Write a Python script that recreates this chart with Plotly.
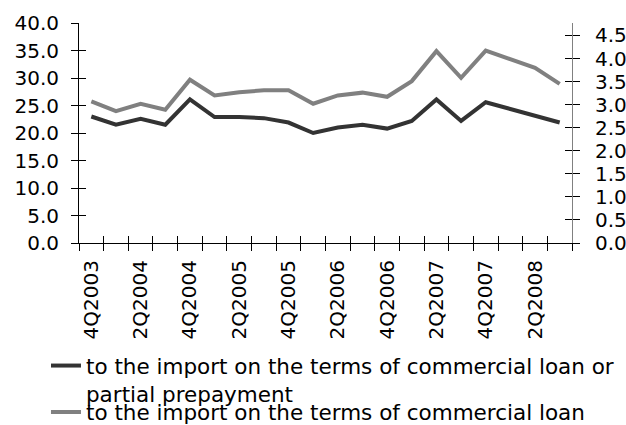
import plotly.graph_objects as go

quarters = ["4Q2003",
            "1Q2004", "2Q2004", "3Q2004", "4Q2004",
            "1Q2005", "2Q2005", "3Q2005", "4Q2005",
            "1Q2006", "2Q2006", "3Q2006", "4Q2006",
            "1Q2007", "2Q2007", "3Q2007", "4Q2007",
            "1Q2008", "2Q2008", "3Q2008"]
tick_labels = [q if i % 2 == 0 else "" for i, q in enumerate(quarters)]

# left axis series
loan_or_prepay = [23.0, 21.5, 22.6, 21.5, 26.1, 22.9, 22.9, 22.7, 21.9, 20.0,
                  21.0, 21.5, 20.8, 22.2, 26.1, 22.2, 25.6, 24.4, 23.2, 21.9]
# right axis series
loan = [3.07, 2.86, 3.02, 2.89, 3.54, 3.20, 3.27, 3.31, 3.31, 3.02,
        3.20, 3.26, 3.17, 3.51, 4.16, 3.58, 4.17, 3.98, 3.80, 3.45]

name1 = "to the import on the terms of commercial loan or<br>partial prepayment"
name2 = "to the import on the terms of commercial loan"

left_ticks = [0, 5, 10, 15, 20, 25, 30, 35, 40]
right_ticks = [0, 0.5, 1.0, 1.5, 2.0, 2.5, 3.0, 3.5, 4.0, 4.5]
LEFT_MAX = 40
RIGHT_MAX = 4.77

FONT = "DejaVu Sans"
TL = 7
fig = go.Figure()
fig.add_trace(go.Scatter(x=quarters, y=loan_or_prepay, name=name1, mode="lines",
                         line=dict(color="#333333", width=4), xaxis="x", yaxis="y",
                         legend="legend"))
fig.add_trace(go.Scatter(x=quarters, y=loan, name=name2, mode="lines",
                         line=dict(color="#808080", width=4), xaxis="x", yaxis="y2",
                         legend="legend2"))
# invisible traces to carry the "inside" half of the crossing tick marks
fig.add_trace(go.Scatter(x=quarters, y=loan_or_prepay, mode="lines", opacity=0,
                         showlegend=False, hoverinfo="skip", xaxis="x2", yaxis="y3"))
fig.add_trace(go.Scatter(x=quarters, y=loan, mode="lines", opacity=0,
                         showlegend=False, hoverinfo="skip", xaxis="x2", yaxis="y4"))

cat_rng = [-0.5, len(quarters) - 0.5]
legend_common = dict(xanchor="left", yanchor="top", font=dict(size=21.5),
                     valign="top", bgcolor="rgba(0,0,0,0)", borderwidth=0)
fig.update_layout(
    width=626, height=425,
    margin=dict(l=79, r=54, t=23, b=182, autoexpand=False),
    paper_bgcolor="white", plot_bgcolor="white",
    font=dict(family=FONT, size=20, color="black"),
    showlegend=True,
    legend=dict(x=-0.067, y=-0.464, **legend_common),
    legend2=dict(x=-0.067, y=-0.675, **legend_common),
    xaxis=dict(type="category", categoryorder="array", categoryarray=quarters,
               range=cat_rng, tickmode="array", tickvals=quarters, ticktext=tick_labels,
               tickson="boundaries", ticks="outside", ticklen=TL, tickcolor="black",
               showline=True, linecolor="black", linewidth=1, showgrid=False,
               tickangle=-90, zeroline=False, tickfont=dict(size=20), automargin=False,
               ticklabelstandoff=8),
    xaxis2=dict(type="category", categoryorder="array", categoryarray=quarters,
                range=cat_rng, overlaying="x", anchor="y", side="bottom",
                tickmode="array", tickvals=quarters, tickson="boundaries",
                ticks="inside", ticklen=TL, tickcolor="black", automargin=False,
                showticklabels=False, showgrid=False, showline=False, zeroline=False),
    yaxis=dict(range=[0, LEFT_MAX], tickmode="array", tickvals=left_ticks,
               tickformat=".1f", ticks="outside", ticklen=TL, tickcolor="black",
               showline=True, linecolor="black", linewidth=1, showgrid=False,
               zeroline=False, tickfont=dict(size=20), automargin=False,
               ticklabelstandoff=8),
    yaxis2=dict(range=[0, RIGHT_MAX], tickmode="array", tickvals=right_ticks,
                tickformat=".1f", overlaying="y", side="right", anchor="x",
                ticks="outside", ticklen=TL, tickcolor="black", automargin=False,
                showline=True, linecolor="#808080", linewidth=1, showgrid=False,
                zeroline=False, tickfont=dict(size=20), ticklabelstandoff=11),
    yaxis3=dict(range=[0, LEFT_MAX], tickmode="array", tickvals=left_ticks,
                overlaying="y", side="left", anchor="x", ticks="inside", ticklen=TL,
                tickcolor="black", showticklabels=False, showgrid=False,
                showline=False, zeroline=False, automargin=False),
    yaxis4=dict(range=[0, RIGHT_MAX], tickmode="array", tickvals=right_ticks,
                overlaying="y", side="right", anchor="x", ticks="inside", ticklen=TL,
                tickcolor="black", showticklabels=False, showgrid=False,
                showline=False, zeroline=False, automargin=False),
)

fig.write_html("out.html", config={"displayModeBar": False},
               post_script="document.body.style.margin='0';document.body.style.padding='0';")
